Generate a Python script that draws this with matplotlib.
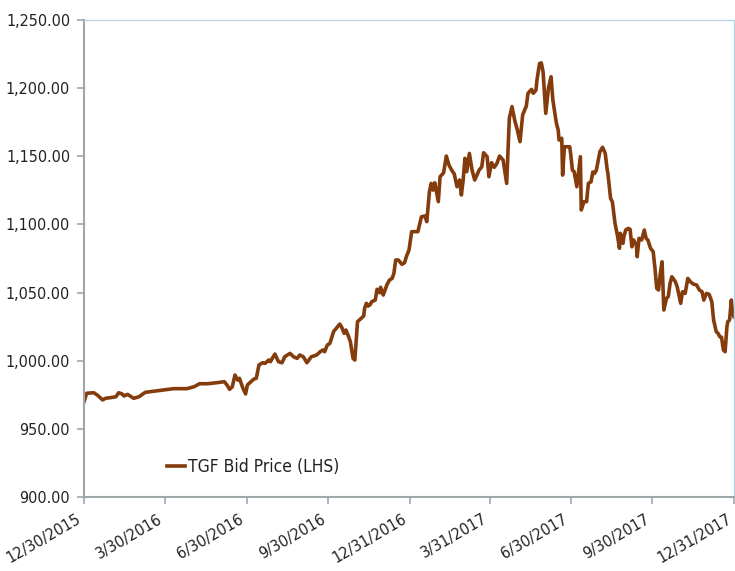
import matplotlib
matplotlib.use("Agg")
import matplotlib.pyplot as plt
import matplotlib.transforms as mtransforms
import numpy as np
import pandas as pd

plt.rcParams['font.family'] = ['DejaVu Sans']
plt.rcParams['font.stretch'] = 'condensed'

# days since 2015-12-30
day_offsets = [0, 3, 11, 15, 21, 24, 32, 36, 39, 43, 45, 49, 56, 62, 69, 75, 90, 101, 116, 124,
               130, 139, 150, 158, 161, 164, 167, 170, 173, 175, 177, 179, 182, 184, 188, 191, 194,
               197, 201, 204, 208, 210, 212, 215, 219, 223, 226, 232, 236, 240, 243, 247, 251, 256,
               262, 266, 269, 271, 274, 277, 281, 285, 288, 290, 293, 295, 298, 300, 303, 305, 308,
               315, 316, 318, 320, 322, 324, 328, 330, 333, 334, 337, 341, 344, 347, 349, 351, 354,
               358, 361, 363, 366, 369, 376, 380, 384, 386, 389, 391, 393, 395, 399, 401, 405, 408,
               411, 414, 417, 420, 423, 425, 427, 429, 431, 434, 437, 440, 445, 448, 450, 454, 456,
               459, 462, 465, 468, 472, 476, 479, 482, 485, 488, 491, 494, 497, 498, 500, 504, 506,
               509, 510, 513, 515, 517, 520, 523, 526, 528, 532, 534, 535, 538, 539, 541, 544, 547,
               548, 550, 552, 555, 559, 560, 563, 566, 568, 571, 573, 575, 577, 581, 584, 587, 589,
               590, 593, 595, 598, 601, 603, 604, 607, 608, 610, 613, 615, 617, 619, 622, 623, 625,
               628, 631, 633, 635, 638, 641, 643, 645, 647, 649, 651, 653, 656, 658, 660, 662, 666,
               668, 672, 674, 677, 680, 683, 686, 690, 693, 696, 698, 701, 704, 707, 709, 712, 714,
               716, 718, 720, 722, 724, 725, 727, 729, 730, 732]

bid_price = [969.9, 976.1, 976.5, 974.8, 971.2, 972.4, 973.1, 973.6, 976.5, 975.6, 974.1, 975.3,
             972.4, 973.6, 976.8, 977.3, 978.5, 979.5, 979.5, 980.9, 983.1, 983.1, 983.9, 984.6,
             982.2, 979.0, 980.9, 989.5, 985.8, 987.1, 983.4, 979.8, 975.6, 982.2, 984.6, 986.4,
             987.1, 996.8, 998.5, 998.1, 1000.5, 999.3, 1001.7, 1004.9, 999.3, 998.5, 1002.9,
             1005.4, 1002.9, 1001.7, 1004.2, 1002.9, 998.5, 1002.9, 1004.2, 1006.6, 1007.9, 1006.6,
             1011.5, 1012.8, 1021.3, 1024.5, 1026.9, 1024.9, 1020.1, 1022.5, 1017.6, 1013.9, 1001.7,
             1000.5, 1028.6, 1032.8, 1038.5, 1042.1, 1040.1, 1040.9, 1043.3, 1044.5, 1052.4, 1049.9,
             1053.9, 1048.2, 1055.5, 1059.2, 1060.4, 1064.1, 1073.9, 1073.9, 1070.7, 1071.9, 1076.3,
             1081.2, 1094.7, 1094.7, 1105.6, 1106.2, 1102.0, 1124.0, 1130.1, 1125.2, 1130.6, 1116.7,
             1135.0, 1137.9, 1150.2, 1143.6, 1139.9, 1137.0, 1127.7, 1132.6, 1121.6, 1132.6, 1148.5,
             1138.7, 1152.1, 1139.9, 1132.6, 1139.9, 1142.3, 1152.6, 1149.7, 1135.0, 1145.3, 1141.9,
             1144.8, 1150.2, 1147.2, 1130.1, 1178.0, 1186.4, 1176.6, 1169.3, 1160.7, 1180.3, 1185.2,
             1186.4, 1196.2, 1199.1, 1196.2, 1198.6, 1205.5, 1218.1, 1218.5, 1212.0, 1181.5, 1199.8,
             1208.4, 1191.3, 1174.2, 1169.3, 1161.9, 1163.2, 1136.2, 1157.0, 1157.0, 1157.0, 1152.1,
             1139.9, 1138.7, 1127.7, 1149.7, 1110.6, 1116.7, 1116.7, 1130.1, 1131.3, 1138.5, 1137.4,
             1139.9, 1153.4, 1156.6, 1152.1, 1141.2, 1137.4, 1119.1, 1116.7, 1100.8, 1091.0, 1082.5,
             1093.5, 1086.1, 1091.0, 1095.9, 1097.1, 1096.4, 1083.6, 1088.6, 1084.9, 1076.3, 1089.8,
             1088.6, 1095.9, 1089.8, 1088.6, 1082.5, 1080.0, 1067.8, 1053.1, 1051.9, 1064.1, 1072.6,
             1037.2, 1045.8, 1047.0, 1056.8, 1061.6, 1057.9, 1054.3, 1042.1, 1050.6, 1049.4, 1060.4,
             1057.9, 1056.3, 1055.5, 1051.9, 1050.6, 1044.5, 1049.4, 1048.7, 1043.3, 1029.9, 1021.3,
             1020.1, 1017.6, 1017.2, 1007.9, 1006.6, 1024.9, 1028.6, 1029.9, 1044.5, 1037.2, 1032.3]

tick_dates = ['2015-12-30', '2016-03-30', '2016-06-30', '2016-09-30', '2016-12-31',
              '2017-03-31', '2017-06-30', '2017-09-30', '2017-12-31']
tick_labels = ['12/30/2015', '3/30/2016', '6/30/2016', '9/30/2016', '12/31/2016',
               '3/31/2017', '6/30/2017', '9/30/2017', '12/31/2017']
y_ticks = [900, 950, 1000, 1050, 1100, 1150, 1200, 1250]
series_label = 'TGF Bid Price (LHS)'

start = pd.Timestamp('2015-12-30')
dates = [start + pd.Timedelta(days=d) for d in day_offsets]

fig = plt.figure(figsize=(7.35, 5.71), dpi=100)
ax = fig.add_axes([84/735, (571-497)/571, 650/735, 477/571])

ax.plot(dates, bid_price, color='#843C0C', lw=2.6, label=series_label, solid_joinstyle='round')

ax.set_xlim(pd.Timestamp(tick_dates[0]), pd.Timestamp(tick_dates[-1]))
ax.set_ylim(900, 1250)
ax.set_yticks(y_ticks)
ax.set_yticklabels([f'{v:,.2f}' for v in y_ticks], fontsize=11.5)
ax.set_xticks([pd.Timestamp(d) for d in tick_dates])
ax.set_xticklabels(tick_labels, rotation=30, ha='right', va='center', rotation_mode='anchor',
                   fontsize=11.5)

ax.tick_params(axis='both', colors='#A0A7AB', length=5, width=1.2,
               labelcolor='#222222', direction='out')
ax.tick_params(axis='x', pad=10)
ax.tick_params(axis='y', pad=5)

shift = mtransforms.ScaledTranslation(-4/100, 0, fig.dpi_scale_trans)
for lbl in ax.get_xticklabels():
    lbl.set_transform(lbl.get_transform() + shift)

for s in ['left', 'bottom']:
    ax.spines[s].set_color('#A0A7AB')
    ax.spines[s].set_linewidth(1.5)
for s in ['top', 'right']:
    ax.spines[s].set_color('#B7D4E6')
    ax.spines[s].set_linewidth(1.0)

leg = ax.legend(loc='center left', bbox_to_anchor=(0.115, 0.063), frameon=False,
                handlelength=1.0, handletextpad=0.2, borderpad=0, fontsize=12.5)
for t in leg.get_texts():
    t.set_color('#222222')

fig.savefig('out.png', dpi=100)
